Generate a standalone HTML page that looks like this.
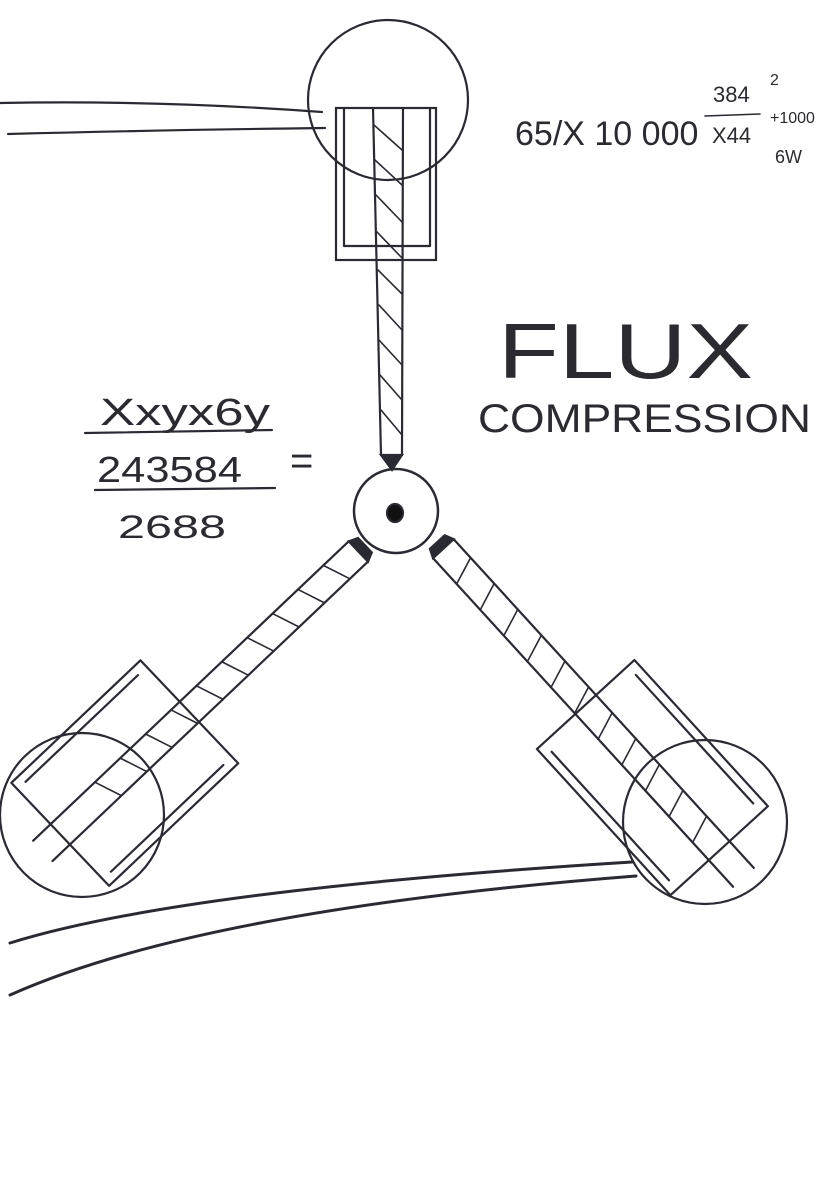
<!DOCTYPE html>
<html><head><meta charset="utf-8"><style>
html,body{margin:0;padding:0;background:#fff}
svg{display:block}
text{font-family:"Liberation Sans",sans-serif;fill:#2a2a30}
</style></head><body>
<svg width="835" height="1181" viewBox="0 0 835 1181" xmlns="http://www.w3.org/2000/svg">
<g fill="none" stroke="#2a2a33" stroke-width="2.2" stroke-linecap="round">
<!-- top circle -->
<circle cx="388" cy="100" r="80"/>
<path d="M0 103 Q160 100 322 112"/>
<path d="M8 134 Q160 130 325 128"/>
<!-- top rectangles -->
<rect x="336" y="108" width="100" height="152"/>
<path d="M344 108 V246 M430 108 V246 M344 246 H430"/>
<!-- top shaft -->
<path d="M373 108 L381 455 M403 108 L402 455"/>
<path d="M381 455 L392 470 L402 455 Z" fill="#2a2a33"/>
<g stroke-width="1.6">
<path d="M374 125 L402 150 M375 160 L402 185 M376 195 L402 222 M377 232 L402 258 M378 270 L402 294 M379 305 L402 330 M379 340 L402 365 M380 375 L402 400 M381 410 L402 435"/>
</g>
<!-- small circle -->
<circle cx="396" cy="511" r="42" stroke-width="2.5"/>
<ellipse cx="395" cy="513" rx="8" ry="9" fill="#111"/>
<!-- left arm -->
<g transform="translate(362,548) rotate(136.5)">
<path d="M5 -14 L440 -14 M5 14 L440 14"/>
<path d="M-4 -10 L5 -14 L5 14 L-4 10 Z" fill="#2a2a33"/>
<g stroke-width="1.6">
<path d="M30 -14 L40 14 M65 -14 L75 14 M100 -14 L110 14 M135 -14 L145 14 M170 -14 L180 14 M205 -14 L215 14 M240 -14 L250 14 M275 -14 L285 14 M310 -14 L320 14 M345 -14 L355 14"/>
</g>
<path d="M238 -71 L238 71 M238 -71 L416 -71 M238 71 L416 71 M416 -71 L416 71"/>
<path d="M250 -62 L405 -62 M250 62 L405 62"/>
</g>
<circle cx="82" cy="815" r="82"/>
<!-- right arm -->
<g transform="translate(440,545) rotate(47.6)">
<path d="M5 -14 L450 -14 M5 14 L450 14"/>
<path d="M-4 -10 L5 -14 L5 14 L-4 10 Z" fill="#2a2a33"/>
<g stroke-width="1.6">
<path d="M30 -14 L40 14 M65 -14 L75 14 M100 -14 L110 14 M135 -14 L145 14 M170 -14 L180 14 M205 -14 L215 14 M240 -14 L250 14 M275 -14 L285 14 M310 -14 L320 14 M345 -14 L355 14 M380 -14 L390 14"/>
</g>
<path d="M216 -66 L216 66 M216 -66 L414 -66 M216 66 L414 66 M414 -66 L414 66"/>
<path d="M228 -57 L402 -57 M228 57 L402 57"/>
</g>
<circle cx="705" cy="822" r="82"/>
<!-- bottom wires -->
<path d="M10 943 Q180 890 632 862" stroke-width="3"/>
<path d="M10 995 Q200 910 636 876" stroke-width="3"/>
<!-- formula lines -->
<path d="M85 433 L272 430 M95 490 L275 488"/>
<path d="M705 116 L760 114" stroke-width="1.6"/>
</g>
<text x="515" y="145" font-size="34">65/X 10 000</text>
<text x="713" y="102" font-size="22">384</text>
<text x="770" y="85" font-size="16">2</text>
<text x="712" y="143" font-size="22">X44</text>
<text x="770" y="123" font-size="16">+1000</text>
<text x="775" y="163" font-size="18">6W</text>
<text x="498" y="378" font-size="78" font-weight="300" textLength="255" lengthAdjust="spacingAndGlyphs">FLUX</text>
<text x="478" y="432" font-size="40" textLength="333" lengthAdjust="spacingAndGlyphs">COMPRESSION</text>
<text x="100" y="425" font-size="38" textLength="170" lengthAdjust="spacingAndGlyphs">Xxyx6y</text>
<text x="97" y="482" font-size="36" textLength="145" lengthAdjust="spacingAndGlyphs">243584</text>
<text x="290" y="474" font-size="40">=</text>
<text x="118" y="538" font-size="32" textLength="108" lengthAdjust="spacingAndGlyphs">2688</text>
</svg>
</body></html>
